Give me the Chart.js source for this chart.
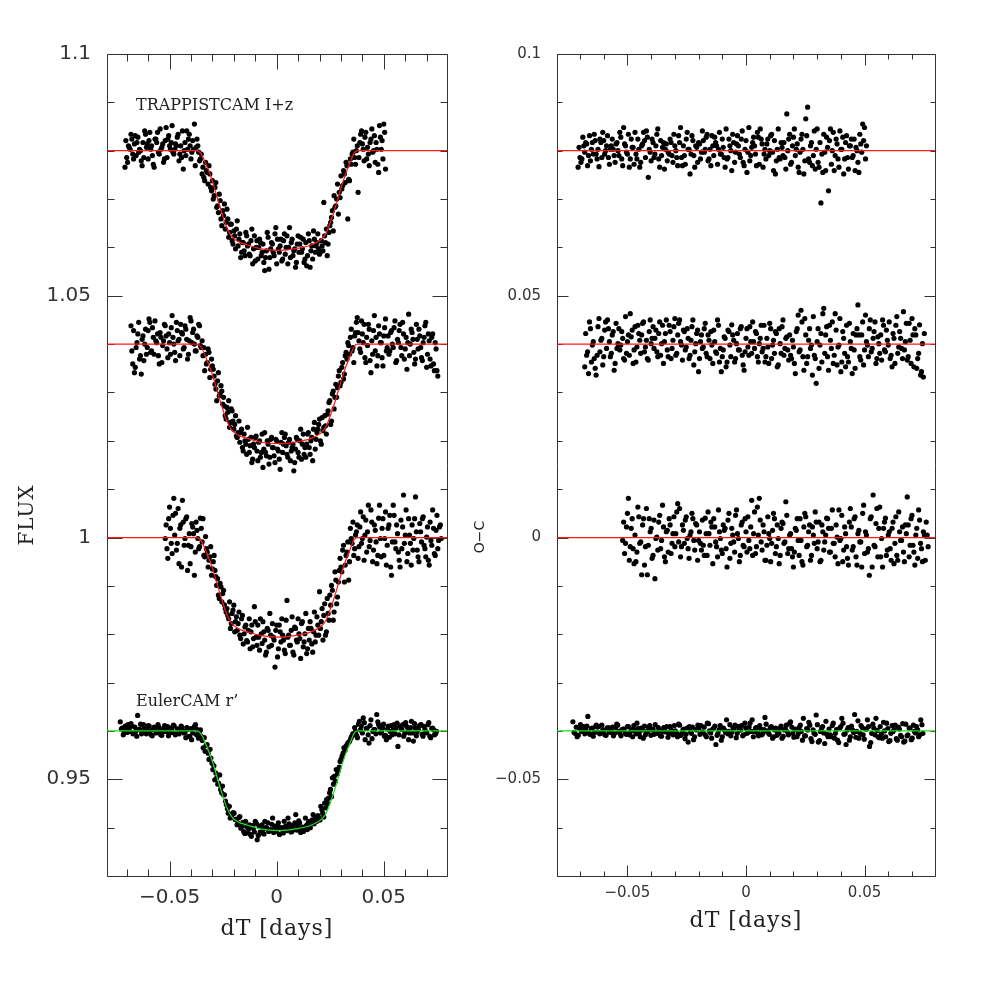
<!DOCTYPE html>
<html>
<head>
<meta charset="utf-8">
<script src="https://cdn.jsdelivr.net/npm/chart.js@4.4.1/dist/chart.umd.min.js"></script>
<style>
  html, body { margin: 0; padding: 0; background: #fff; }
  #wrap { position: relative; width: 981px; height: 981px; }
  #wrap canvas { position: absolute; left: 0; top: 0; }
</style>
</head>
<body>
<div id="wrap">
  <canvas id="flux" width="981" height="981"></canvas>
  <canvas id="oc" width="981" height="981"></canvas>
</div>
<script>
// --- data (dT in days, flux / O-C in parts per thousand around each baseline) ---
const fluxBase = [1.08, 1.04, 1.00, 0.96];
const ocBase = [0.08, 0.04, 0, -0.04];

// transit model, depth in ppt
const modelX = [-0.0800, -0.0372, -0.0352, -0.0330, -0.0306, -0.0282, -0.0259, -0.0236, -0.0212, -0.0181, -0.0135, -0.0073,
  0.0010, 0.0098, 0.0160, 0.0206, 0.0229, 0.0253, 0.0276, 0.0299, 0.0322, 0.0346, 0.0361, 0.0377, 0.0800];
const modelDepth = [0, 0, -0.7, -2.8, -5.5, -9.0, -12.4, -15.5, -17.6, -18.8, -19.5, -20.3,
  -20.6, -20.2, -19.5, -18.4, -17.2, -14.5, -11.4, -7.9, -4.8, -2.1, -0.5, 0, 0];

// TRAPPISTCAM I+z (top), read in two interleaved passes (a, b)
const x1 = [-.0708,-.0700,-.0692,-.0684,-.0676,-.0668,-.0660,-.0652,-.0644,-.0636,
  -.0628,-.0620,-.0612,-.0604,-.0596,-.0588,-.0580,-.0572,-.0564,-.0556,
  -.0548,-.0540,-.0532,-.0524,-.0516,-.0508,-.0500,-.0492,-.0484,-.0476,
  -.0468,-.0460,-.0452,-.0444,-.0436,-.0428,-.0420,-.0412,-.0404,-.0396,
  -.0388,-.0380,-.0372,-.0364,-.0356,-.0348,-.0340,-.0332,-.0324,-.0316,
  -.0308,-.0300,-.0292,-.0284,-.0276,-.0268,-.0260,-.0252,-.0244,-.0236,
  -.0228,-.0220,-.0212,-.0204,-.0196,-.0188,-.0180,-.0172,-.0164,-.0156,
  -.0148,-.0140,-.0132,-.0124,-.0116,-.0108,-.0100,-.0092,-.0084,-.0076,
  -.0068,-.0060,-.0052,-.0044,-.0036,-.0028,-.0020,-.0012,-.0004,.0004,
  .0012,.0020,.0028,.0036,.0044,.0052,.0060,.0068,.0076,.0084,
  .0092,.0100,.0108,.0116,.0124,.0132,.0140,.0148,.0156,.0164,
  .0172,.0180,.0188,.0196,.0204,.0212,.0220,.0228,.0236,.0244,
  .0252,.0260,.0268,.0276,.0284,.0292,.0300,.0308,.0316,.0324,
  .0332,.0340,.0348,.0356,.0364,.0372,.0380,.0388,.0396,.0404,
  .0412,.0420,.0428,.0436,.0444,.0452,.0460,.0468,.0476,.0484,
  .0492,.0500,.0508];
const flux1 = [-3.4,-1.4,1.0,0.3,2.4,-1.7, 3.1,1.7,-0.3,0,-3.1,-1.4, 3.4,1.4,2.1,0.3,-1.0,-3.4,
  2.4,3.8,-0.7,0.3,1.4,-1.7, 4.8,2.4,1.0,1.7,-0.3,0.3, 1.0,3.4,-0.7,-1.4,-3.8,1.7,
  4.1,2.4,1.0,-0.3,0.3,-3.1, 2.4,-0.3,-1.7,-4.8,-5.5,-2.4, -4.5,-3.1,-7.6,-6.2,-9.3,-6.6,
  -11.4,-9.0,-14.1,-12.4,-11.0,-14.8, -14.1,-16.9,-15.2,-19.3,-17.6,-16.2, -19.7,-17.2,-21.0,-19.0,-21.7,-17.6,
  -19.3,-21.7,-16.2,-20.3,-22.8,-18.6, -20.0,-19.0,-21.0,-23.1,-22.1,-16.9, -24.5,-20.3,-19.3,-21.7,-15.9,-18.3,
  -21.0,-18.3,-22.4,-17.2,-20.0,-23.4, -15.9,-19.0,-21.7,-20.3,-23.1,-17.6, -19.3,-21.0,-18.3,-22.4,-23.8,-17.2,
  -24.1,-19.7,-16.6,-21.0,-19.0,-20.3, -21.0,-19.7,-10.7,-19.0,-21.7,-16.9, -14.8,-12.4,-9.3,-11.4,-6.9,-8.6,
  -5.2,-7.2,-4.8,-2.4,-14.1,-6.2, -2.8,-0.3,-1.4,0,-8.6,1.7, 4.1,0.3,2.8,-1.7,-0.7,1.7,
  4.5,0,-2.4,0.3,-4.5,2.8, 2.1,5.5,-3.8];
const oc1 = [-3.4,-1.4,-1.7,1.0,1.7,-3.1, 3.1,0.3,-0.7,2.1,-1.7,-3.3, 1.7,3.8,-0.7,1.0,-1.4,0.3,
  2.4,-1.0,1.4,0,3.8,-1.7, 4.8,1.0,-0.7,-3.4,2.4,0.7, 3.8,-1.7,0.3,-2.4,1.4,2.1,
  4.1,-5.5,-0.3,2.4,-1.4,1.0, 4.5,-3.4,-1.0,1.7,0.3,-2.1, -0.7,1.7,-2.4,1.0,-1.4,3.1,
  4.8,-3.1,-1.0,2.4,0.3,-4.8, 3.1,-1.0,1.0,-2.4,1.4,-0.3, 2.1,0.3,3.4,-1.7,-3.1,1.0,
  2.8,1.0,0.3,-0.7,2.4,-1.4, 4.5,-1.4,1.0,-4.1,1.7,-0.3, 3.1,-0.7,2.4,-2.4,0.3,-4.5,
  4.8,-1.0,1.7,1.0,-3.1,2.8, 4.5,1.4,-0.7,-1.7,2.4,0, 3.4,-4.1,-4.8,0.3,-1.4,1.7,
  -1.0,-1.4,7.6,2.4,-2.8,1.0, 4.5,0.3,-3.4,-0.3,3.4,-4.8, 6.6,9.0,-2.4,1.7,-1.0,-3.8,
  4.5,-3.4,-10.8,-4.5,-0.3,2.8, -8.3,4.5,0,-4.1,2.4,-1.7, 4.1,0.3,-4.8,1.7,-1.4,1.0,
  2.4,-1.0,-4.1,0,-4.5,1.4, 5.5,4.8,1.0];
const x1b = [-.0704,-.0696,-.0688,-.0680,-.0672,-.0664,-.0656,-.0648,-.0640,-.0632,
  -.0624,-.0616,-.0608,-.0600,-.0592,-.0584,-.0576,-.0568,-.0560,-.0552,
  -.0544,-.0536,-.0528,-.0520,-.0512,-.0504,-.0496,-.0488,-.0480,-.0472,
  -.0464,-.0456,-.0448,-.0440,-.0432,-.0424,-.0416,-.0408,-.0400,-.0392,
  -.0384,-.0376,-.0368,-.0360,-.0352,-.0344,-.0336,-.0328,-.0320,-.0312,
  -.0304,-.0296,-.0288,-.0280,-.0272,-.0264,-.0256,-.0248,-.0240,-.0232,
  -.0224,-.0216,-.0208,-.0200,-.0192,-.0184,-.0176,-.0168,-.0160,-.0152,
  -.0144,-.0136,-.0128,-.0120,-.0112,-.0104,-.0096,-.0088,-.0080,-.0072,
  -.0064,-.0056,-.0048,-.0040,-.0032,-.0024,-.0016,-.0008,0,.0008,
  .0016,.0024,.0032,.0040,.0048,.0056,.0064,.0072,.0080,.0088,
  .0096,.0104,.0112,.0120,.0128,.0136,.0144,.0152,.0160,.0168,
  .0176,.0184,.0192,.0200,.0208,.0216,.0224,.0232,.0240,.0248,
  .0256,.0264,.0272,.0280,.0288,.0296,.0304,.0312,.0320,.0328,
  .0336,.0344,.0352,.0360,.0368,.0376,.0384,.0392,.0400,.0408,
  .0416,.0424,.0432,.0440,.0448,.0456,.0464,.0472,.0480,.0488,
  .0496,.0504];
const flux1b = [2.1,-2.4,0.7,3.4,-0.7,1.4, -1.0,2.8,0.3,-2.1,1.7,4.1, 0.7,-1.7,3.8,1.0,-2.8,2.4,
  1.7,-0.3,4.5,0.7,-2.4,2.1, -1.4,3.1,0.3,5.2,-0.7,1.4, 2.8,-2.1,1.0,4.1,0,-1.0,
  0.3,3.4,-1.7,2.1,5.5,0.7, 1.0,-2.1,-0.7,-3.4,-6.2,-4.1, -6.9,-4.8,-8.3,-10.0,-7.6,-11.7,
  -12.8,-10.3,-15.5,-13.4,-16.2,-12.1, -17.9,-15.2,-18.6,-16.6,-20.3,-14.5, -18.3,-22.1,-19.0,-20.7,-16.9,-19.7,
  -21.4,-18.6,-23.4,-17.6,-20.0,-22.4, -18.3,-21.7,-19.3,-24.8,-20.7,-17.9, -22.1,-19.0,-21.0,-17.2,-23.4,-20.3,
  -19.7,-22.8,-18.6,-21.4,-17.6,-20.0, -22.1,-18.3,-20.7,-24.1,-19.3,-21.0, -17.9,-20.3,-23.1,-19.0,-21.7,-18.6,
  -20.7,-22.4,-18.3,-19.7,-17.2,-21.4, -18.6,-20.7,-17.6,-16.2,-19.3,-15.5, -13.8,-16.6,-11.7,-10.0,-13.1,-9.7,
  -7.9,-4.1,-6.6,-3.1,-5.9,-1.7, -0.7,2.4,-2.8,1.0,-1.4,3.4, 1.4,-2.1,3.8,0.7,-3.1,2.4,
  -0.3,3.1,1.7,-2.8,5.2,0.3, -1.7,3.8];
const oc1b = [0.7,-2.4,2.8,-0.3,1.4,-1.0, -2.1,1.7,3.4,-0.7,0.3,2.4, -1.4,2.1,0,3.1,-2.8,1.0,
  0.3,-2.4,1.7,-1.0,2.8,-3.1, 1.4,-0.3,3.4,-1.7,0.7,-2.8, -0.7,2.4,-3.4,1.0,3.8,-1.4,
  2.8,0.3,-2.1,1.7,-0.7,3.4, -1.7,2.1,0.7,-3.8,1.4,-0.3, 2.4,-1.0,3.4,0,-3.1,1.7,
  -1.4,1.0,-2.8,3.8,0.3,-0.7, 2.1,-3.4,0.7,1.7,-1.7,4.1, -0.3,2.8,-2.1,0.3,3.1,-1.0,
  1.7,-2.8,3.8,-0.7,0.7,-3.4, -1.7,2.4,0,3.4,-2.4,1.4, 1.0,-1.4,4.1,-3.1,2.1,-0.3,
  -2.1,0.7,2.8,-0.7,3.8,-2.8, 2.4,-3.4,0.3,1.4,-1.0,3.1, -0.3,2.1,-2.1,4.5,-1.7,0.7,
  1.7,-3.8,0,3.4,-2.4,2.8, -1.0,1.4,-4.5,2.4,0.3,-2.1, 3.1,-1.7,1.0,-3.1,4.1,0.3,
  -2.4,1.7,-0.7,3.4,-4.1,0.7, 2.1,-2.8,3.8,-1.0,1.4,-3.4, 0.3,2.8,-1.7,3.1,-3.8,1.0,
  -1.4,2.4,0.7,-2.4,3.4,-0.3, 2.1,-1.7];

// second TRAPPISTCAM light curve
const x2 = [-.0680,-.0672,-.0664,-.0656,-.0648,-.0640,-.0632,-.0624,-.0616,-.0608,
  -.0600,-.0592,-.0584,-.0576,-.0568,-.0560,-.0552,-.0544,-.0536,-.0528,
  -.0520,-.0512,-.0504,-.0496,-.0488,-.0480,-.0472,-.0464,-.0456,-.0448,
  -.0440,-.0432,-.0424,-.0416,-.0408,-.0400,-.0392,-.0384,-.0376,-.0368,
  -.0360,-.0352,-.0344,-.0336,-.0328,-.0320,-.0312,-.0304,-.0296,-.0288,
  -.0280,-.0272,-.0264,-.0256,-.0248,-.0240,-.0232,-.0224,-.0216,-.0208,
  -.0200,-.0192,-.0184,-.0176,-.0168,-.0160,-.0152,-.0144,-.0136,-.0128,
  -.0120,-.0112,-.0104,-.0096,-.0088,-.0080,-.0072,-.0064,-.0056,-.0048,
  -.0040,-.0032,-.0024,-.0016,-.0008,0,.0008,.0016,.0024,.0032,
  .0040,.0048,.0056,.0064,.0072,.0080,.0088,.0096,.0104,.0112,
  .0120,.0128,.0136,.0144,.0152,.0160,.0168,.0176,.0184,.0192,
  .0200,.0208,.0216,.0224,.0232,.0240,.0248,.0256,.0264,.0272,
  .0280,.0288,.0296,.0304,.0312,.0320,.0328,.0336,.0344,.0352,
  .0360,.0368,.0376,.0384,.0392,.0400,.0408,.0416,.0424,.0432,
  .0440,.0448,.0456,.0464,.0472,.0480,.0488,.0496,.0504,.0512,
  .0520,.0528,.0536,.0544,.0552,.0560,.0568,.0576,.0584,.0592,
  .0600,.0608,.0616,.0624,.0632,.0640,.0648,.0656,.0664,.0672,
  .0680,.0688,.0696,.0704,.0712,.0720,.0728,.0736,.0744,.0752];
const flux2 = [3.8,-4.1,-5.9,-0.7,2.1,-3.1, -6.2,1.7,0,-2.1,2.8,4.5, -1.4,1.4,4.8,0.3,-2.4,2.4,
  -3.8,0.7,3.8,-1.0,2.1,-2.1, 5.9,0,-3.4,2.8,1.0,4.1, 2.1,-0.7,3.1,-3.1,0.7,4.8,
  2.4,0,-1.4,1.4,3.8,-0.7, -2.4,-5.5,-4.1,-1.0,-6.9,-3.1, -5.2,-8.3,-11.7,-5.9,-10.3,-9.7,
  -11.0,-14.8,-13.1,-11.7,-16.2,-13.8, -17.6,-14.8,-19.3,-15.9,-18.3,-21.4, -18.6,-20.7,-17.2,-22.4,-19.3,-23.8,
  -21.4,-19.0,-24.1,-20.0,-22.4,-25.5, -18.3,-23.1,-20.7,-23.4,-19.3,-21.4, -24.5,-20.0,-22.1,-25.9,-18.3,-20.7,
  -18.6,-22.8,-20.3,-24.1,-21.4,-26.2, -21.7,-19.7,-23.4,-17.6,-20.7,-22.8, -23.4,-18.6,-21.4,-20.0,-24.1,-16.2,
  -19.7,-17.6,-15.5,-20.7,-17.9,-14.8, -18.6,-13.8,-11.7,-15.9,-9.7,-11.0, -11.0,-6.6,-8.6,-4.8,-7.2,-2.4,
  -3.1,-0.3,1.4,-1.4,-3.8,2.4, 5.5,0.7,-1.7,2.1,4.1,-3.8, -0.3,3.1,-5.9,-2.1,5.9,1.4,
  -2.4,2.1,0.3,-4.5,3.4,-1.4, 1.7,-1.4,2.8,-0.7,4.8,-3.4, 0.3,4.1,-2.4,2.1,-1.0,-5.2,
  6.2,0,2.4,-1.7,-3.1,1.0, 3.1,-0.7,-3.4,1.4,4.5,-2.1, 0.7,-4.5,2.1,-5.5,-1.0,-6.6];
const oc2 = [-4.7,-2.3,-6.1,3.2,-0.2,-3.0, -6.4,3.6,-1.6,1.2,-2.6,4.6, 5.0,0.5,-1.9,2.6,-4.0,-0.9,
  3.2,-0.2,1.2,-3.3,-1.9,1.9, 6.3,2.9,-1.2,-3.7,3.9,0.8, 1.9,4.6,-0.6,-3.0,2.6,0.1,
  3.6,1.2,-1.6,2.2,-2.3,3.9, 0.5,5.0,-2.6,2.6,-0.9,3.6, -2.3,1.9,5.0,-0.2,2.9,-1.2,
  3.2,-3.0,0.8,5.0,-1.6,2.2, -5.7,0.5,-0.9,3.2,-1.9,1.9, -3.0,-0.2,2.9,-1.6,5.0,-3.7,
  -5.7,-1.2,1.2,-3.7,2.6,-2.6, 1.9,-3.7,0.1,-1.2,3.2,-2.3, -5.4,1.2,-0.6,3.6,-1.9,0.5,
  2.6,-2.6,0.1,3.9,-0.9,-3.7, 1.2,-4.0,3.2,-0.2,-1.9,2.2, -4.3,0.1,3.6,-2.3,1.2,-1.2,
  1.9,-3.0,-0.6,-6.1,3.2,-1.6, 7.0,-2.6,5.3,-4.0,0.8,-0.9, -6.4,-2.3,-8.1,3.2,-0.2,-3.7,
  7.4,1.9,-2.6,3.9,-0.9,-4.0, 6.3,-4.3,-0.2,-5.7,2.6,-1.9, 3.9,-3.7,0.5,-6.1,-1.2,1.9,
  8.1,-2.6,1.9,-4.3,6.0,-0.2, 3.2,-1.6,1.2,4.6,-3.0,0.1, 1.9,5.0,-1.2,2.9,-0.2,-3.0,
  -4.7,1.2,3.9,-1.9,2.6,-0.9, 6.7,0.5,-3.3,4.3,-4.0,1.9, 3.2,-5.0,-1.9,-6.4,0.1,2.2];
const x2b = [-.0676,-.0668,-.0660,-.0652,-.0644,-.0636,-.0628,-.0620,-.0612,-.0604,
  -.0596,-.0588,-.0580,-.0572,-.0564,-.0556,-.0548,-.0540,-.0532,-.0524,
  -.0516,-.0508,-.0500,-.0492,-.0484,-.0476,-.0468,-.0460,-.0452,-.0444,
  -.0436,-.0428,-.0420,-.0412,-.0404,-.0396,-.0388,-.0380,-.0372,-.0364,
  -.0356,-.0348,-.0340,-.0332,-.0324,-.0316,-.0308,-.0300,-.0292,-.0284,
  -.0276,-.0268,-.0260,-.0252,-.0244,-.0236,-.0228,-.0220,-.0212,-.0204,
  -.0196,-.0188,-.0180,-.0172,-.0164,-.0156,-.0148,-.0140,-.0132,-.0124,
  -.0116,-.0108,-.0100,-.0092,-.0084,-.0076,-.0068,-.0060,-.0052,-.0044,
  -.0036,-.0028,-.0020,-.0012,-.0004,.0004,.0012,.0020,.0028,.0036,
  .0044,.0052,.0060,.0068,.0076,.0084,.0092,.0100,.0108,.0116,
  .0124,.0132,.0140,.0148,.0156,.0164,.0172,.0180,.0188,.0196,
  .0204,.0212,.0220,.0228,.0236,.0244,.0252,.0260,.0268,.0276,
  .0284,.0292,.0300,.0308,.0316,.0324,.0332,.0340,.0348,.0356,
  .0364,.0372,.0380,.0388,.0396,.0404,.0412,.0420,.0428,.0436,
  .0444,.0452,.0460,.0468,.0476,.0484,.0492,.0500,.0508,.0516,
  .0524,.0532,.0540,.0548,.0556,.0564,.0572,.0580,.0588,.0596,
  .0604,.0612,.0620,.0628,.0636,.0644,.0652,.0660,.0668,.0676,
  .0684,.0692,.0700,.0708,.0716,.0724,.0732,.0740,.0748];
const flux2b = [-1.4,2.8,-4.8,0.3,4.5,-2.4, 1.0,-3.4,3.1,-0.7,5.2,-1.7, 3.4,-2.1,0.7,2.1,-4.1,1.4,
  -0.3,4.1,1.7,-2.8,0.3,3.4, 1.4,-1.7,4.5,0.7,-2.4,2.4, -1.0,3.8,1.0,-2.1,5.5,0.3,
  3.1,-1.4,1.7,4.1,-0.3,0.7, -0.7,-2.1,-3.8,-1.7,-5.2,-4.5, -6.6,-9.3,-7.6,-10.7,-8.6,-12.4,
  -12.8,-15.5,-14.1,-17.2,-13.4,-15.9, -16.6,-19.0,-18.3,-20.3,-17.6,-22.1, -20.0,-22.8,-19.7,-21.0,-24.5,-20.7,
  -19.3,-22.1,-20.3,-23.4,-18.6,-21.7, -22.4,-20.0,-24.8,-19.7,-21.4,-23.1, -19.7,-21.7,-23.8,-20.3,-22.4,-19.3,
  -21.0,-23.4,-19.7,-22.1,-20.7,-24.5, -19.3,-22.4,-20.0,-23.8,-18.6,-21.4, -20.7,-18.3,-22.8,-19.3,-17.6,-21.7,
  -18.3,-16.6,-20.0,-15.2,-17.2,-16.9, -14.5,-12.1,-16.6,-10.3,-13.4,-8.3, -9.0,-5.5,-7.9,-3.8,-6.2,-1.7,
  0.3,-2.1,3.1,-0.7,1.7,4.5, 2.4,-1.0,4.8,0.3,-2.8,1.4, 4.1,-3.4,0.7,2.8,-1.4,-4.5,
  3.8,0.3,-2.8,1.7,5.2,-0.7, -2.1,2.4,0,3.4,-3.8,1.0, 2.8,-0.7,4.5,-3.1,1.4,0.3,
  -2.4,3.1,1.0,-4.1,4.1,-1.0, 1.7,-2.8,0.3,3.8,-4.8,2.1, -3.1,1.4,-4.1,0.3,-5.5];
const oc2b = [2.2,-1.6,4.6,-3.7,0.5,-5.0, -2.3,5.3,0.8,-4.3,2.9,-0.9, 3.2,-2.6,1.9,-5.4,4.3,0.1,
  -1.2,2.6,-3.0,5.7,0.5,-2.3, 1.5,-4.0,3.6,-0.6,2.2,-1.9, 4.3,-1.6,0.8,-3.3,5.0,1.2,
  -0.9,2.9,-2.6,4.6,0.1,-4.0, 2.2,-1.2,3.9,-3.0,0.8,5.3, -1.9,4.3,0.5,-3.3,2.6,-0.6,
  1.2,-2.3,3.6,-4.3,0.1,2.9, -3.0,1.9,-0.6,4.3,-2.6,0.8, 2.6,-4.0,0.5,-1.9,3.9,-0.9,
  -2.6,1.5,-4.7,2.9,-0.2,4.0, 0.8,-3.0,2.2,-1.2,3.6,-4.3, -1.6,3.2,-2.3,0.5,4.6,-0.9,
  2.2,-3.7,1.2,-1.6,3.9,-2.6, -0.6,4.3,-3.0,0.8,2.6,-4.7, 3.2,-1.9,5.0,-0.9,1.5,-3.3,
  -2.3,0.8,-4.0,2.6,6.0,-1.2, 4.6,-5.4,1.9,-2.6,3.2,-0.2, 5.7,-3.0,0.5,-5.0,2.2,6.3,
  -1.9,3.6,-5.4,0.8,4.6,-2.3, 2.9,-0.6,5.3,-3.7,1.2,-4.7, -2.6,4.3,-0.9,2.2,-5.0,3.2,
  1.9,-3.3,4.6,-1.2,0.5,-2.6, 5.0,-0.9,2.6,-4.0,1.5,-1.9, -3.3,3.9,-1.6,0.8,4.6,-2.3,
  2.2,-4.0,5.7,-0.6,1.2,-3.0, -1.2,4.3,-2.6,0.8,5.3,-4.7, 1.9,-3.0,4.0,-5.7,-6.8];

// third TRAPPISTCAM light curve
const x3 = [-.0520,-.0512,-.0504,-.0496,-.0488,-.0480,-.0472,-.0464,-.0456,-.0448,
  -.0440,-.0432,-.0424,-.0416,-.0408,-.0400,-.0392,-.0384,-.0376,-.0368,
  -.0360,-.0352,-.0344,-.0336,-.0328,-.0320,-.0312,-.0304,-.0296,-.0288,
  -.0280,-.0272,-.0264,-.0256,-.0248,-.0240,-.0232,-.0224,-.0216,-.0208,
  -.0200,-.0192,-.0184,-.0176,-.0168,-.0160,-.0152,-.0144,-.0136,-.0128,
  -.0120,-.0112,-.0104,-.0096,-.0088,-.0080,-.0072,-.0064,-.0056,-.0048,
  -.0040,-.0032,-.0024,-.0016,-.0008,0,.0008,.0016,.0024,.0032,
  .0040,.0048,.0056,.0064,.0072,.0080,.0088,.0096,.0104,.0112,
  .0120,.0128,.0136,.0144,.0152,.0160,.0168,.0176,.0184,.0192,
  .0200,.0208,.0216,.0224,.0232,.0240,.0248,.0256,.0264,.0272,
  .0280,.0288,.0296,.0304,.0312,.0320,.0328,.0336,.0344,.0352,
  .0360,.0368,.0376,.0384,.0392,.0400,.0408,.0416,.0424,.0432,
  .0440,.0448,.0456,.0464,.0472,.0480,.0488,.0496,.0504,.0512,
  .0520,.0528,.0536,.0544,.0552,.0560,.0568,.0576,.0584,.0592,
  .0600,.0608,.0616,.0624,.0632,.0640,.0648,.0656,.0664,.0672,
  .0680,.0688,.0696,.0704,.0712,.0720,.0728,.0736,.0744,.0752,
  .0760,.0768];
const flux3 = [-0.2,-2.3,3.9,1.9,-3.3,8.1, 5.0,-1.2,-5.4,2.6,7.7,-1.6, 3.9,-6.8,0.8,-1.9,2.2,-7.8,
  3.2,-0.2,-1.9,1.9,3.9,-4.0, -2.3,-6.1,-4.0,-7.8,-5.0,-6.8, -9.9,-11.9,-9.5,-13.3,-10.9,-14.7,
  -14.7,-16.8,-18.8,-15.7,-14.0,-17.4, -19.2,-15.4,-20.9,-16.1,-19.9,-18.1, -21.6,-16.8,-19.5,-22.6,-14.3,-20.6,
  -18.1,-23.3,-19.9,-17.4,-21.2,-23.7, -19.2,-15.7,-22.3,-20.6,-26.8,-18.1, -23.0,-19.5,-16.8,-21.2,-24.0,-13.0,
  -20.2,-22.3,-16.4,-24.3,-18.8,-21.6, -19.9,-25.0,-17.4,-21.6,-15.7,-23.0, -21.2,-18.8,-23.7,-15.4,-20.2,-18.1,
  -11.2,-17.4,-21.2,-13.7,-19.5,-15.7, -11.9,-9.9,-17.1,-7.1,-13.7,-9.2, -4.3,-7.1,-1.6,-5.7,-3.0,-8.8,
  1.9,-1.2,-3.7,0.5,2.6,-1.9, 5.3,-0.2,-4.7,3.6,1.2,-1.9, 5.7,-5.0,2.6,-0.9,-3.7,6.7,
  -4.0,3.9,-0.2,-5.7,1.9,4.6, -7.8,6.7,-0.9,2.6,-3.0,-6.1, -2.3,8.8,0.5,-5.0,3.9,-1.2,
  2.6,-0.2,8.4,-2.6,-5.0,1.2, 3.9,-1.6,-4.0,2.2,-5.7,-0.6, 5.7,-3.3,1.5,-2.3,2.2,-0.2];
const oc3 = [-0.6,-3.3,2.2,8.1,-1.9,3.9, -5.4,-5.0,6.3,-1.2,-7.7,3.9, -1.9,-7.7,3.9,1.9,-3.7,-8.5,
  0.1,3.2,-2.3,6.7,-4.0,1.2, -3.0,2.6,-1.2,4.3,0.8,7.0, 6.0,-1.9,1.5,3.6,-0.2,-4.3,
  1.2,3.9,-2.6,2.6,-0.6,-1.2, 3.6,-3.7,0.8,5.3,-1.6,2.2, 3.9,-0.9,-4.0,1.2,-2.6,2.6,
  1.9,-6.1,5.0,-1.2,0.5,-3.0, 5.7,-0.2,-3.7,3.2,-1.9,1.2, 4.3,-2.3,7.7,0.8,-3.3,6.3,
  8.1,-0.9,2.6,-4.7,-1.6,0.8, -5.0,1.5,3.9,-1.9,-0.2,-3.7, 3.2,-1.2,7.4,-3.3,0.5,-2.3,
  -6.1,1.9,3.9,-3.7,-0.6,-5.7, 5.0,-1.9,1.2,-4.7,2.2,-1.2, 3.2,-0.9,-5.0,2.6,-2.6,0.5,
  3.9,-3.0,1.9,-1.2,-4.0,0.1, 5.7,-0.2,-5.0,2.2,-1.9,-5.7, 6.0,-2.6,3.9,-4.0,0.8,-0.9,
  -6.1,6.7,1.2,-3.0,-7.8,4.3, 8.8,-1.9,6.0,1.9,-4.0,-6.1, 3.2,-3.7,0.5,-2.3,1.9,-5.4,
  4.3,-4.7,1.2,-0.6,-3.0,2.6, 8.4,-4.0,3.9,-1.6,-5.7,1.9, 5.7,-1.2,-5.0,0.5,3.2,-1.9];
const x3b = [-.0516,-.0508,-.0500,-.0492,-.0484,-.0476,-.0468,-.0460,-.0452,-.0444,
  -.0436,-.0428,-.0420,-.0412,-.0404,-.0396,-.0388,-.0380,-.0372,-.0364,
  -.0356,-.0348,-.0340,-.0332,-.0324,-.0316,-.0308,-.0300,-.0292,-.0284,
  -.0276,-.0268,-.0260,-.0252,-.0244,-.0236,-.0228,-.0220,-.0212,-.0204,
  -.0196,-.0188,-.0180,-.0172,-.0164,-.0156,-.0148,-.0140,-.0132,-.0124,
  -.0116,-.0108,-.0100,-.0092,-.0084,-.0076,-.0068,-.0060,-.0052,-.0044,
  -.0036,-.0028,-.0020,-.0012,-.0004,.0004,.0012,.0020,.0028,.0036,
  .0044,.0052,.0060,.0068,.0076,.0084,.0092,.0100,.0108,.0116,
  .0124,.0132,.0140,.0148,.0156,.0164,.0172,.0180,.0188,.0196,
  .0204,.0212,.0220,.0228,.0236,.0244,.0252,.0260,.0268,.0276,
  .0284,.0292,.0300,.0308,.0316,.0324,.0332,.0340,.0348,.0356,
  .0364,.0372,.0380,.0388,.0396,.0404,.0412,.0420,.0428,.0436,
  .0444,.0452,.0460,.0468,.0476,.0484,.0492,.0500,.0508,.0516,
  .0524,.0532,.0540,.0548,.0556,.0564,.0572,.0580,.0588,.0596,
  .0604,.0612,.0620,.0628,.0636,.0644,.0652,.0660,.0668,.0676,
  .0684,.0692,.0700,.0708,.0716,.0724,.0732,.0740,.0748,.0756,
  .0764];
const flux3b = [2.6,-4.3,6.3,-1.2,4.6,0.5, -2.6,6.0,1.9,-6.1,3.2,-0.2, 4.3,-1.6,-5.4,2.9,0.8,-3.0,
  1.5,-2.3,4.0,-0.9,-3.7,0.2, -3.0,-4.7,-1.9,-6.5,-3.7,-8.1, -8.5,-12.6,-10.2,-11.6,-13.9,-15.4,
  -16.1,-13.3,-17.8,-15.0,-19.5,-16.4, -17.8,-20.2,-16.8,-22.0,-18.5,-21.3, -19.2,-23.0,-18.1,-20.9,-17.4,-22.3,
  -20.6,-16.8,-21.9,-19.5,-24.3,-18.8, -22.6,-20.2,-17.8,-21.2,-19.2,-24.7, -18.1,-21.6,-20.2,-23.3,-17.1,-20.6,
  -22.3,-19.2,-23.7,-18.5,-21.2,-16.8, -20.9,-17.8,-22.6,-19.9,-24.0,-18.8, -17.4,-22.0,-19.5,-21.6,-16.4,-20.2,
  -18.8,-14.7,-16.1,-20.2,-12.6,-17.1, -14.0,-10.9,-15.4,-8.8,-12.3,-6.8, -6.1,-2.6,-9.2,-3.7,-0.9,-5.0,
  -0.2,3.2,-2.3,1.2,-4.3,2.2, -1.2,4.3,0.5,-3.0,6.7,-0.6, 3.2,-2.6,1.5,-5.4,4.0,-0.2,
  1.9,-3.7,5.3,-1.6,2.6,-6.1, -0.9,4.6,-2.3,0.8,-4.7,3.6, 2.2,-1.2,5.7,-3.3,0.5,-5.7,
  -2.6,3.9,1.2,-4.0,2.9,-0.9, 4.3,-2.3,0.1,-4.7,3.2,-1.6, 1.9,-3.7,4.6,-0.6,2.6];
const oc3b = [3.2,-1.2,5.0,-4.7,1.9,-2.3, 0.5,-3.0,4.3,-0.9,2.6,-5.7, 6.0,-1.6,1.2,-4.3,3.6,-0.2,
  -2.6,4.6,-0.6,2.2,-5.0,1.5, 3.9,-3.3,0.8,-1.9,5.3,-0.9, -4.0,2.6,-1.2,4.3,-2.3,0.5,
  5.0,-0.6,2.9,-4.7,1.2,-2.6, -1.6,4.0,-3.7,0.8,3.2,-5.4, 2.2,-1.9,5.7,-0.2,-3.3,1.5,
  -2.3,3.6,-4.3,1.9,-0.9,4.6, 0.8,-5.0,2.6,-1.6,3.9,-3.0, -0.6,2.2,-3.7,5.3,-1.9,0.5,
  3.6,-2.6,1.2,-4.7,4.3,-0.2, -1.2,5.0,-3.3,2.6,-5.4,1.9, 2.9,-0.9,4.6,-2.3,0.8,-4.0,
  -3.0,1.5,-0.6,3.9,-5.0,2.2, 4.3,-1.6,2.6,-3.7,0.5,5.3, -2.3,3.2,-4.7,1.2,-0.9,4.0,
  1.9,-3.0,5.7,-1.2,2.6,-5.4, -0.6,4.6,-2.6,0.8,-4.3,3.2, 2.2,-1.9,4.3,-5.7,1.5,-0.9,
  5.0,-3.3,0.5,-2.3,3.9,-6.1, -1.6,2.9,-4.0,6.3,-0.2,1.9, 4.0,-2.6,1.2,-4.7,3.2,-1.2,
  -3.7,5.3,-0.6,2.2,-5.0,0.8, 2.6,-1.6,4.6,-3.0,0.5,-4.3, 3.6,-2.3,1.2,-4.7,0.5];

// EulerCAM r' (bottom)
const x4 = [-.0730,-.0721,-.0712,-.0703,-.0694,-.0685,-.0676,-.0667,-.0658,-.0649,
  -.0640,-.0631,-.0622,-.0613,-.0604,-.0595,-.0586,-.0577,-.0568,-.0559,
  -.0550,-.0541,-.0532,-.0523,-.0514,-.0505,-.0496,-.0487,-.0478,-.0469,
  -.0460,-.0451,-.0442,-.0433,-.0424,-.0415,-.0406,-.0397,-.0388,-.0379,
  -.0370,-.0361,-.0352,-.0343,-.0334,-.0325,-.0316,-.0307,-.0298,-.0289,
  -.0280,-.0271,-.0262,-.0253,-.0244,-.0235,-.0226,-.0217,-.0208,-.0199,
  -.0190,-.0181,-.0172,-.0163,-.0154,-.0145,-.0136,-.0127,-.0118,-.0109,
  -.0100,-.0091,-.0082,-.0073,-.0064,-.0055,-.0046,-.0037,-.0028,-.0019,
  -.0010,-.0001,.0008,.0017,.0026,.0035,.0044,.0053,.0062,.0071,
  .0080,.0089,.0098,.0107,.0116,.0125,.0134,.0143,.0152,.0161,
  .0170,.0179,.0188,.0197,.0206,.0215,.0224,.0233,.0242,.0251,
  .0260,.0269,.0278,.0287,.0296,.0305,.0314,.0323,.0332,.0341,
  .0350,.0359,.0368,.0377,.0386,.0395,.0404,.0413,.0422,.0431,
  .0440,.0449,.0458,.0467,.0476,.0485,.0494,.0503,.0512,.0521,
  .0530,.0539,.0548,.0557,.0566,.0575,.0584,.0593,.0602,.0611,
  .0620,.0629,.0638,.0647,.0656,.0665,.0674,.0683,.0692,.0701,
  .0710,.0719,.0728,.0737,.0746];
const flux4 = [1.9,0.6,-0.4,0.3,1.3,-0.1, 1.0,-0.4,-0.1,3.2,0.4,-0.6, 1.3,-0.4,0.1,1.0,-0.8,0.3,
  0.4,-0.3,0.8,-0.8,-0.1,1.1, 0.1,-1.0,0.6,-0.3,1.0,-0.6, 0.4,-0.1,0.8,-0.4,-1.4,0.3,
  -1.1,-1.8,0.6,1.3,0.3,-0.3, -1.1,-3.5,-4.2,-2.8,-5.9,-5.6, -8.0,-10.1,-9.7,-10.8,-12.1,-11.4,
  -13.2,-15.2,-17.0,-18.0,-17.3,-17.0, -18.3,-19.0,-17.7,-19.7,-20.8,-18.7, -21.1,-19.4,-21.8,-20.1,-18.7,-22.5,
  -19.7,-21.1,-20.4,-18.7,-20.1,-20.8, -20.4,-18.0,-19.7,-20.8,-19.0,-20.1, -20.4,-18.7,-19.7,-18.0,-20.1,-20.8,
  -20.4,-17.3,-19.7,-19.0,-20.4,-20.8, -18.0,-20.4,-18.7,-19.0,-17.3,-18.3, -18.7,-18.0,-15.6,-17.0,-14.9,-14.2,
  -13.9,-12.1,-9.7,-9.4,-8.0,-8.3, -6.3,-5.2,-3.5,-3.2,-2.5,-2.1, -1.1,-0.8,-0.1,-1.4,2.0,1.0,
  2.7,-1.8,0.6,-2.5,2.3,-0.1, 0.3,3.4,1.3,-0.4,0.6,-1.1, -1.8,1.0,-0.1,-0.8,1.3,0.6,
  -3.2,1.0,0.3,-1.1,1.7,-0.1, -0.4,2.0,-2.1,0.6,-0.1,1.0, 1.3,-1.1,0.3,-0.4,1.7,-1.4,
  0.6,-0.8,-0.1];
const oc4 = [1.9,-0.5,-1.2,0.6,-0.1,0.9, 0.2,3.0,-0.7,0.6,-0.3,1.2, 0.9,-0.5,0.2,-0.8,0.6,-0.1,
  0,-1.0,0.7,1.2,-0.5,0.3, 0.4,-0.7,0.9,-0.1,-1.2,0.1, 1.6,-0.5,0.6,-1.5,-0.8,0,
  1.1,0.2,-0.7,-0.3,0.7,-1.0, -0.1,0.6,0.9,-0.5,0.2,-0.8, 0,-1.2,1.2,-0.5,0.4,-0.7,
  -2.3,-0.1,0.8,-1.2,0.2,0.6, 1.1,-0.3,-0.8,1.6,0,-1.5, 0.6,-2.8,-0.5,1.1,-1.2,0.2,
  2.3,-0.1,-1.0,0.7,1.2,-0.5, 0.2,1.1,-0.8,0.6,-0.3,1.6, 2.3,-0.1,0.7,-1.0,0.4,-0.5,
  2.8,0,-0.7,0.9,-1.2,0.6, -0.3,0.6,-1.5,0.2,1.2,-0.8, 1.9,-0.5,0.4,-1.2,0.7,-0.1,
  2.6,-1.0,0.2,1.2,-2.2,-0.5, 3.3,-2.3,-0.1,0.9,-2.6,-0.7, 0.4,-1.2,1.6,-0.5,-1.9,0.6,
  2.6,-0.7,-2.8,0.7,-1.2,0.2, 3.4,-0.1,-1.5,1.1,-0.8,0.4, 2.3,-3.2,-0.5,0.6,2.6,-1.2,
  0.9,-1.5,0,1.6,-2.2,-0.5, -0.1,1.2,-1.9,0.4,-1.2,-2.3, 1.4,-0.8,0.6,-1.5,-0.1,0.9,
  -1.2,2.3,-0.5];
const x4b = [-.0725,-.0716,-.0707,-.0698,-.0689,-.0680,-.0671,-.0662,-.0653,-.0644,
  -.0635,-.0626,-.0617,-.0608,-.0599,-.0590,-.0581,-.0572,-.0563,-.0554,
  -.0545,-.0536,-.0527,-.0518,-.0509,-.0500,-.0491,-.0482,-.0473,-.0464,
  -.0455,-.0446,-.0437,-.0428,-.0419,-.0410,-.0401,-.0392,-.0383,-.0374,
  -.0365,-.0356,-.0347,-.0338,-.0329,-.0320,-.0311,-.0302,-.0293,-.0284,
  -.0275,-.0266,-.0257,-.0248,-.0239,-.0230,-.0221,-.0212,-.0203,-.0194,
  -.0185,-.0176,-.0167,-.0158,-.0149,-.0140,-.0131,-.0122,-.0113,-.0104,
  -.0095,-.0086,-.0077,-.0068,-.0059,-.0050,-.0041,-.0032,-.0023,-.0014,
  -.0005,.0004,.0013,.0022,.0031,.0040,.0049,.0058,.0067,.0076,
  .0085,.0094,.0103,.0112,.0121,.0130,.0139,.0148,.0157,.0166,
  .0175,.0184,.0193,.0202,.0211,.0220,.0229,.0238,.0247,.0256,
  .0265,.0274,.0283,.0292,.0301,.0310,.0319,.0328,.0337,.0346,
  .0355,.0364,.0373,.0382,.0391,.0400,.0409,.0418,.0427,.0436,
  .0445,.0454,.0463,.0472,.0481,.0490,.0499,.0508,.0517,.0526,
  .0535,.0544,.0553,.0562,.0571,.0580,.0589,.0598,.0607,.0616,
  .0625,.0634,.0643,.0652,.0661,.0670,.0679,.0688,.0697,.0706,
  .0715,.0724,.0733,.0742];
const flux4b = [0.4,-0.8,1.0,-0.3,0.6,1.5, -0.6,0.8,-1.1,0.3,1.4,-0.3, 0.6,-0.6,1.1,0,-1.0,0.8,
  -0.4,1.3,0.1,-0.9,0.6,-0.1, 0.9,-0.5,0.3,1.2,-0.8,0.4, -0.6,1.0,0,-0.3,0.7,-1.1,
  0.5,-0.4,1.0,-0.8,-1.5,0.2, -2.0,-1.4,-3.0,-4.6,-3.8,-6.7, -7.2,-8.7,-11.0,-9.1,-12.8,-13.2,
  -14.5,-16.1,-15.6,-17.7,-16.9,-18.3, -19.4,-17.9,-20.1,-18.9,-21.2,-19.8, -20.3,-21.4,-19.6,-20.9,-19.1,-21.6,
  -20.9,-19.4,-21.3,-20.0,-19.0,-20.6, -19.3,-21.0,-20.2,-19.6,-21.4,-20.0, -21.1,-19.8,-20.6,-19.2,-20.9,-19.5,
  -19.0,-20.5,-18.6,-21.0,-19.9,-20.3, -19.5,-18.9,-20.0,-18.4,-19.2,-17.8, -17.5,-18.4,-16.3,-17.8,-15.9,-15.0,
  -12.8,-13.6,-11.0,-10.4,-8.9,-7.5, -5.8,-4.6,-4.0,-2.9,-2.3,-1.5, -0.6,0.7,-0.9,1.4,0.2,-0.4,
  1.7,0.5,-0.8,1.1,-1.6,0.3, -0.6,1.9,0.8,-0.2,1.4,-0.9, 0.4,-1.3,1.1,0.2,-0.6,1.6,
  -0.8,0.6,1.3,-0.5,0.9,-1.8, 0.7,-0.4,1.5,-1.0,0.3,1.2, -0.7,0.9,-0.2,1.3,-1.1,0.5,
  0.2,-0.6];
const oc4b = [-0.3,0.8,-0.9,1.3,0.2,-0.6, 1.0,-0.4,0.5,-1.1,0.9,-0.2, -0.6,1.2,0.1,-0.9,0.7,-0.3,
  0.8,-0.5,1.4,-0.1,-1.0,0.4, -0.4,0.9,-0.8,0.3,1.1,-0.6, 0.5,-1.2,0.2,1.0,-0.3,0.7,
  -0.9,0.4,1.3,-0.5,0.1,-1.1, 0.7,-0.2,-1.3,0.9,-0.6,1.1, -0.4,1.4,-0.9,0.2,-1.6,0.6,
  0.9,-0.5,-1.8,0.3,1.2,-0.7, -0.2,0.8,-1.2,1.5,-0.4,0.4, 1.0,-0.9,0.3,-1.9,0.6,-0.3,
  -0.6,1.3,-0.2,0.5,-1.4,0.9, 0.2,-1.0,1.6,-0.5,0.8,-0.1, -1.2,0.6,-0.4,1.1,-0.8,0.3,
  1.4,-0.3,0.7,-1.5,0.2,-0.9, -0.5,1.0,-1.1,0.4,-0.2,1.6, 0.8,-1.3,0.3,-0.6,1.2,-1.9,
  -1.0,0.5,1.8,-1.6,0.2,-0.7, 1.3,-2.0,0.6,-0.4,2.0,-1.2, -0.8,1.1,-1.5,0.3,-2.4,0.9,
  1.6,-0.6,0.2,-1.9,1.0,-0.3, -1.3,2.1,-0.5,0.7,-1.7,0.4, 0.9,-2.4,1.4,-0.8,0.1,-1.4,
  -0.6,1.8,-1.2,0.5,-2.0,1.1, 0.3,-1.6,0.8,-0.9,1.5,-2.1, -1.0,0.6,-1.8,1.2,-0.4,0.2,
  -0.8,1.3];

const xsets = [[x1, x1b], [x2, x2b], [x3, x3b], [x4, x4b]];
const fluxSets = [[flux1, flux1b], [flux2, flux2b], [flux3, flux3b], [flux4, flux4b]];
const ocSets = [[oc1, oc1b], [oc2, oc2b], [oc3, oc3b], [oc4, oc4b]];
const lineColors = ['#ff1a1a', '#ff1a1a', '#ff1a1a', '#22dd22'];

// --- helpers ---
const INK = '#333';
const isMajor = v => Math.round(v * 100) % 5 === 0;
const tickLabel = v => isMajor(v) ? String(+v.toFixed(2)).replace('-', '\u2212') : '';
const toPoints = (xs, ys, base) => xs.map((x, i) => ({ x: x, y: base + ys[i] / 1000 }));
const bothPasses = (k, sets, base) =>
  toPoints(xsets[k][0], sets[k][0], base).concat(toPoints(xsets[k][1], sets[k][1], base));

function frameTicks(minorLen, majorLen) {
  return {
    id: 'frameTicks',
    beforeDatasetsDraw(chart) {
      const { ctx, chartArea: a, scales: { x, y } } = chart;
      const L = Math.round(a.left) + .5, R = Math.round(a.right) + .5;
      const T = Math.round(a.top) + .5, B = Math.round(a.bottom) + .5;
      ctx.save();
      ctx.strokeStyle = INK;
      ctx.lineWidth = 1;
      ctx.beginPath();
      ctx.rect(L, T, R - L, B - T);
      x.ticks.forEach(t => {
        const p = Math.round(x.getPixelForValue(t.value)) + .5;
        const len = isMajor(t.value) ? majorLen : minorLen;
        ctx.moveTo(p, B); ctx.lineTo(p, B - len);
        ctx.moveTo(p, T); ctx.lineTo(p, T + len);
      });
      y.ticks.forEach(t => {
        const p = Math.round(y.getPixelForValue(t.value)) + .5;
        const len = isMajor(t.value) ? majorLen : minorLen;
        ctx.moveTo(L, p); ctx.lineTo(L + len, p);
        ctx.moveTo(R, p); ctx.lineTo(R - len, p);
      });
      ctx.stroke();
      ctx.restore();
    }
  };
}

function texts(items) {
  return {
    id: 'texts',
    afterDraw(chart) {
      const ctx = chart.ctx;
      items.forEach(t => {
        ctx.save();
        ctx.font = t.font;
        ctx.fillStyle = '#222';
        ctx.letterSpacing = t.spacing || '0px';
        ctx.textAlign = t.align || 'center';
        ctx.textBaseline = 'middle';
        ctx.translate(t.x, t.y);
        if (t.rotate) ctx.rotate(-Math.PI / 2);
        ctx.fillText(t.text, 0, 0);
        ctx.restore();
      });
    }
  };
}

function axisOpts(min, max, size, fontSize, padding) {
  return {
    type: 'linear', min: min, max: max,
    grid: { display: false, drawTicks: false },
    border: { display: false },
    ticks: {
      stepSize: 0.01, includeBounds: false, autoSkip: false, maxRotation: 0,
      padding: padding, color: INK, callback: tickLabel,
      font: { family: 'DejaVu Sans', size: fontSize }
    },
    afterFit: s => { if (s.isHorizontal()) s.height = size; else s.width = size; }
  };
}

// --- left panel: light curves ---
const fluxData = [];
fluxSets.forEach((s, k) => {
  fluxData.push({ data: bothPasses(k, fluxSets, fluxBase[k]), showLine: false,
    pointRadius: 2.6, pointBackgroundColor: '#000', pointBorderWidth: 0, order: 2 });
  fluxData.push({ data: toPoints(modelX, modelDepth, fluxBase[k]), showLine: true,
    borderColor: lineColors[k], borderWidth: 1.2, pointRadius: 0,
    cubicInterpolationMode: 'monotone', order: 1 });
});

new Chart(document.getElementById('flux'), {
  type: 'scatter',
  data: { datasets: fluxData },
  options: {
    responsive: false, animation: false, events: [],
    layout: { padding: { left: 0, top: 54, right: 981 - 447, bottom: 0 } },
    plugins: { legend: { display: false }, tooltip: { enabled: false } },
    scales: {
      x: axisOpts(-0.0792, 0.0795, 105, 20, 10),
      y: axisOpts(0.93, 1.1, 107, 20, 16)
    }
  },
  plugins: [frameTicks(7, 15), texts([
    { text: 'dT [days]', x: 277, y: 929, font: '22px "DejaVu Serif"', spacing: '1px' },
    { text: 'FLUX', x: 28, y: 515, font: '20px "DejaVu Serif"', spacing: '1px', rotate: true },
    { text: 'TRAPPISTCAM I+z', x: 136, y: 106, font: '16px "DejaVu Serif"', align: 'left' },
    { text: 'EulerCAM r\u2019', x: 136, y: 702, font: '16px "DejaVu Serif"', align: 'left' }
  ])]
});

// --- right panel: residuals ---
const ocData = [];
ocSets.forEach((s, k) => {
  ocData.push({ data: bothPasses(k, ocSets, ocBase[k]), showLine: false,
    pointRadius: 2.6, pointBackgroundColor: '#000', pointBorderWidth: 0, order: 2 });
  ocData.push({ data: [{ x: -0.08, y: ocBase[k] }, { x: 0.08, y: ocBase[k] }], showLine: true,
    borderColor: lineColors[k], borderWidth: 1.2, pointRadius: 0, order: 1 });
});

new Chart(document.getElementById('oc'), {
  type: 'scatter',
  data: { datasets: ocData },
  options: {
    responsive: false, animation: false, events: [],
    layout: { padding: { left: 0, top: 54, right: 981 - 935, bottom: 0 } },
    plugins: { legend: { display: false }, tooltip: { enabled: false } },
    scales: {
      x: axisOpts(-0.0797, 0.0797, 105, 15, 8),
      y: axisOpts(-0.07, 0.1, 557, 15, 16)
    }
  },
  plugins: [frameTicks(5, 11), texts([
    { text: 'dT [days]', x: 746, y: 921, font: '22px "DejaVu Serif"', spacing: '1px' },
    { text: 'O\u2212C', x: 480, y: 537, font: '14px "DejaVu Sans"', rotate: true }
  ])]
});
</script>
</body>
</html>
